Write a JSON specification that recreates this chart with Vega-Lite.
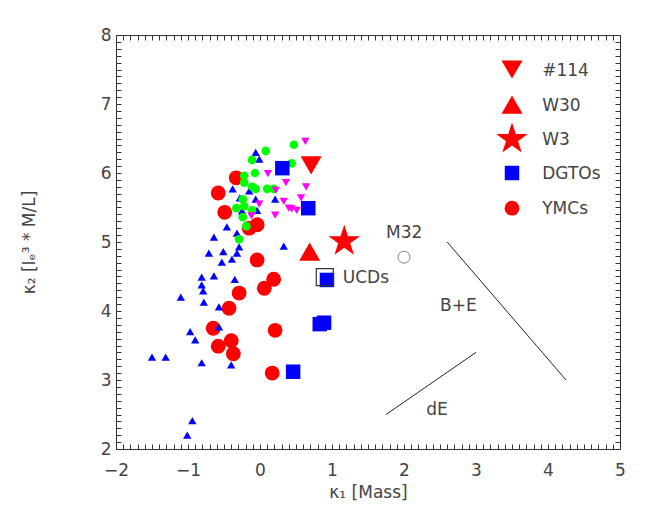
{
  "$schema": "https://vega.github.io/schema/vega-lite/v6.json",
  "width": 504,
  "height": 414,
  "autosize": {"type": "none"},
  "padding": {"left": 116, "top": 35, "right": 34, "bottom": 74},
  "background": "white",
  "config": {
    "view": {"stroke": null},
    "font": "DejaVu Sans",
    "axis": {
      "grid": false,
      "domainColor": "#333",
      "tickColor": "#333",
      "tickWidth": 1,
      "labelFont": "DejaVu Sans",
      "labelFontSize": 17,
      "labelColor": "#444",
      "labelOverlap": false,
      "labelFlush": false,
      "titleFont": "DejaVu Sans",
      "titleFontSize": 17,
      "titleFontWeight": "normal",
      "titleColor": "#444"
    }
  },
  "datasets": {
    "pts": [
      {"g": "YMC", "x": -0.58, "y": 5.71},
      {"g": "YMC", "x": -0.33, "y": 5.93},
      {"g": "YMC", "x": -0.49, "y": 5.43},
      {"g": "YMC", "x": -0.15, "y": 5.20},
      {"g": "YMC", "x": -0.04, "y": 5.25},
      {"g": "YMC", "x": -0.04, "y": 4.74},
      {"g": "YMC", "x": 0.19, "y": 4.46},
      {"g": "YMC", "x": 0.06, "y": 4.33},
      {"g": "YMC", "x": -0.29, "y": 4.26},
      {"g": "YMC", "x": -0.43, "y": 4.04},
      {"g": "YMC", "x": -0.65, "y": 3.75},
      {"g": "YMC", "x": 0.21, "y": 3.72},
      {"g": "YMC", "x": -0.40, "y": 3.57},
      {"g": "YMC", "x": -0.58, "y": 3.49},
      {"g": "YMC", "x": -0.37, "y": 3.38},
      {"g": "YMC", "x": 0.17, "y": 3.10},
      {"g": "tri", "x": -0.06, "y": 6.30},
      {"g": "tri", "x": -0.01, "y": 6.20},
      {"g": "tri", "x": -0.38, "y": 5.77},
      {"g": "tri", "x": -0.15, "y": 5.74},
      {"g": "tri", "x": -0.28, "y": 5.64},
      {"g": "tri", "x": -0.06, "y": 5.62},
      {"g": "tri", "x": 0.21, "y": 5.62},
      {"g": "tri", "x": -0.25, "y": 5.45},
      {"g": "tri", "x": -0.04, "y": 5.46},
      {"g": "tri", "x": -0.46, "y": 5.22},
      {"g": "tri", "x": -0.32, "y": 5.13},
      {"g": "tri", "x": -0.64, "y": 5.07},
      {"g": "tri", "x": -0.29, "y": 4.93},
      {"g": "tri", "x": 0.33, "y": 4.94},
      {"g": "tri", "x": -0.71, "y": 4.84},
      {"g": "tri", "x": -0.51, "y": 4.86},
      {"g": "tri", "x": -0.32, "y": 4.84},
      {"g": "tri", "x": -0.53, "y": 4.71},
      {"g": "tri", "x": -0.39, "y": 4.75},
      {"g": "tri", "x": -0.81, "y": 4.49},
      {"g": "tri", "x": -0.64, "y": 4.51},
      {"g": "tri", "x": -0.35, "y": 4.46},
      {"g": "tri", "x": -0.81, "y": 4.38},
      {"g": "tri", "x": -0.79, "y": 4.29},
      {"g": "tri", "x": -1.10, "y": 4.20},
      {"g": "tri", "x": -0.78, "y": 4.13},
      {"g": "tri", "x": -0.57, "y": 4.06},
      {"g": "tri", "x": -0.57, "y": 3.77},
      {"g": "tri", "x": -0.97, "y": 3.70},
      {"g": "tri", "x": -0.90, "y": 3.58},
      {"g": "tri", "x": -1.31, "y": 3.33},
      {"g": "tri", "x": -1.50, "y": 3.33},
      {"g": "tri", "x": -0.81, "y": 3.25},
      {"g": "tri", "x": -0.40, "y": 3.22},
      {"g": "tri", "x": -0.94, "y": 2.41},
      {"g": "tri", "x": -1.01, "y": 2.20},
      {"g": "grn", "x": 0.08, "y": 6.32},
      {"g": "grn", "x": 0.47, "y": 6.41},
      {"g": "grn", "x": 0.44, "y": 6.14},
      {"g": "grn", "x": -0.11, "y": 6.19},
      {"g": "grn", "x": -0.07, "y": 6.00},
      {"g": "grn", "x": -0.22, "y": 5.96},
      {"g": "grn", "x": -0.22, "y": 5.86},
      {"g": "grn", "x": -0.11, "y": 5.80},
      {"g": "grn", "x": -0.06, "y": 5.77},
      {"g": "grn", "x": 0.10, "y": 5.77},
      {"g": "grn", "x": 0.19, "y": 5.77},
      {"g": "grn", "x": -0.24, "y": 5.62},
      {"g": "grn", "x": -0.22, "y": 5.52},
      {"g": "grn", "x": -0.33, "y": 5.49},
      {"g": "grn", "x": -0.11, "y": 5.46},
      {"g": "grn", "x": -0.24, "y": 5.36},
      {"g": "grn", "x": -0.19, "y": 5.23},
      {"g": "grn", "x": -0.29, "y": 5.04},
      {"g": "mag", "x": 0.63, "y": 6.46},
      {"g": "mag", "x": 0.11, "y": 5.99},
      {"g": "mag", "x": 0.36, "y": 5.86},
      {"g": "mag", "x": 0.64, "y": 5.80},
      {"g": "mag", "x": 0.22, "y": 5.75},
      {"g": "mag", "x": 0.33, "y": 5.59},
      {"g": "mag", "x": 0.57, "y": 5.64},
      {"g": "mag", "x": 0.40, "y": 5.49},
      {"g": "mag", "x": 0.44, "y": 5.48},
      {"g": "mag", "x": 0.51, "y": 5.46},
      {"g": "mag", "x": 0.21, "y": 5.39},
      {"g": "mag", "x": -0.01, "y": 5.55},
      {"g": "mag", "x": -0.12, "y": 5.38},
      {"g": "DGTO", "x": 0.31, "y": 6.07},
      {"g": "DGTO", "x": 0.67, "y": 5.49},
      {"g": "DGTO", "x": 0.93, "y": 4.45},
      {"g": "DGTO", "x": 0.83, "y": 3.81},
      {"g": "DGTO", "x": 0.89, "y": 3.83},
      {"g": "DGTO", "x": 0.46, "y": 3.12},
      {"g": "114", "x": 0.71, "y": 6.11},
      {"g": "W30", "x": 0.69, "y": 4.86},
      {"g": "W3", "x": 1.17, "y": 5.01}
    ],
    "legend": [
      {"g": "114", "x": 3.5, "y": 7.5, "label": "#114"},
      {"g": "W30", "x": 3.5, "y": 6.99, "label": "W30"},
      {"g": "W3", "x": 3.5, "y": 6.49, "label": "W3"},
      {"g": "DGTO", "x": 3.5, "y": 6.0, "label": "DGTOs"},
      {"g": "YMC", "x": 3.5, "y": 5.49, "label": "YMCs"}
    ],
    "open": [
      {"name": "M32", "x": 2.0, "y": 4.78},
      {"name": "UCD", "x": 0.90, "y": 4.49}
    ],
    "notes": [
      {"x": 1.75, "y": 5.13, "text": "M32"},
      {"x": 1.15, "y": 4.48, "text": "UCDs"},
      {"x": 2.5, "y": 4.07, "text": "B+E"},
      {"x": 2.31, "y": 2.57, "text": "dE"},
      {"x": 3.92, "y": 7.48, "text": "#114"},
      {"x": 3.92, "y": 6.97, "text": "W30"},
      {"x": 3.92, "y": 6.48, "text": "W3"},
      {"x": 3.92, "y": 5.98, "text": "DGTOs"},
      {"x": 3.92, "y": 5.48, "text": "YMCs"}
    ],
    "lines": [
      {"line": "BE", "x": 2.6, "y": 5.0},
      {"line": "BE", "x": 4.25, "y": 3.0},
      {"line": "dE", "x": 1.75, "y": 2.5},
      {"line": "dE", "x": 3.0, "y": 3.4}
    ]
  },
  "resolve": {"axis": {"x": "independent", "y": "independent"}},
  "layer": [
    {
      "data": {"name": "legend"},
      "mark": {"type": "point", "filled": true, "opacity": 1, "strokeWidth": 0},
      "encoding": {
        "x": {
          "field": "x", "type": "quantitative",
          "scale": {"domain": [-2, 5], "nice": false, "zero": false},
          "axis": {
            "orient": "top", "labels": false, "title": null, "tickCount": 70, "tickSize": -5,
            "encode": {"ticks": {"update": {"y2": {"signal": "abs(datum.value-round(datum.value))<1e-6 ? 9 : 5"}}}}
          }
        },
        "y": {
          "field": "y", "type": "quantitative",
          "scale": {"domain": [2, 8], "nice": false, "zero": false},
          "axis": {
            "orient": "right", "labels": false, "title": null, "tickCount": 60, "tickSize": -5,
            "encode": {"ticks": {"update": {"x2": {"signal": "abs(datum.value-round(datum.value))<1e-6 ? -9 : -5"}}}}
          }
        },
        "shape": {
          "field": "g", "type": "nominal", "legend": null,
          "scale": {
            "domain": ["tri", "grn", "mag", "YMC", "DGTO", "114", "W30", "W3"],
            "range": ["triangle-up", "circle", "triangle-down", "circle", "square", "triangle-down", "triangle-up", "M0,-1L0.2245,-0.309L0.951,-0.309L0.363,0.118L0.588,0.809L0,0.382L-0.588,0.809L-0.363,0.118L-0.951,-0.309L-0.2245,-0.309Z"]
          }
        },
        "color": {
          "field": "g", "type": "nominal", "legend": null,
          "scale": {
            "domain": ["tri", "grn", "mag", "YMC", "DGTO", "114", "W30", "W3"],
            "range": ["#0000FF", "#00FF00", "#FF00FF", "#FF0000", "#0000FF", "#FF0000", "#FF0000", "#FF0000"]
          }
        },
        "size": {
          "field": "g", "type": "nominal", "legend": null,
          "scale": {
            "type": "ordinal",
            "domain": ["tri", "grn", "mag", "YMC", "DGTO", "114", "W30", "W3"],
            "range": [70, 75, 70, 220, 210, 441, 441, 1100]
          }
        }
      }
    },
    {
      "data": {"name": "pts"},
      "mark": {"type": "point", "filled": true, "opacity": 1, "strokeWidth": 0},
      "encoding": {
        "x": {
          "field": "x", "type": "quantitative",
          "axis": {
            "orient": "bottom", "tickCount": 70, "tickSize": -5,
            "labelExpr": "abs(datum.value-round(datum.value))<1e-6 ? format(round(datum.value),'d') : ''",
            "encode": {"ticks": {"update": {"y2": {"signal": "abs(datum.value-round(datum.value))<1e-6 ? -9 : -5"}}}},
            "labelPadding": 18,
            "title": "κ₁ [Mass]", "titlePadding": 6
          }
        },
        "y": {
          "field": "y", "type": "quantitative",
          "axis": {
            "orient": "left", "tickCount": 60, "tickSize": -5,
            "labelExpr": "abs(datum.value-round(datum.value))<1e-6 ? format(round(datum.value),'d') : ''",
            "encode": {"ticks": {"update": {"x2": {"signal": "abs(datum.value-round(datum.value))<1e-6 ? 9 : 5"}}}},
            "labelPadding": 10,
            "title": "κ₂ [Iₑ³ * M/L]", "titlePadding": 62
          }
        },
        "shape": {
          "field": "g", "type": "nominal", "legend": null,
          "scale": {
            "domain": ["tri", "grn", "mag", "YMC", "DGTO", "114", "W30", "W3"],
            "range": ["triangle-up", "circle", "triangle-down", "circle", "square", "triangle-down", "triangle-up", "M0,-1L0.2245,-0.309L0.951,-0.309L0.363,0.118L0.588,0.809L0,0.382L-0.588,0.809L-0.363,0.118L-0.951,-0.309L-0.2245,-0.309Z"]
          }
        },
        "color": {
          "field": "g", "type": "nominal", "legend": null,
          "scale": {
            "domain": ["tri", "grn", "mag", "YMC", "DGTO", "114", "W30", "W3"],
            "range": ["#0000FF", "#00FF00", "#FF00FF", "#FF0000", "#0000FF", "#FF0000", "#FF0000", "#FF0000"]
          }
        },
        "size": {
          "field": "g", "type": "nominal", "legend": null,
          "scale": {
            "type": "ordinal",
            "domain": ["tri", "grn", "mag", "YMC", "DGTO", "114", "W30", "W3"],
            "range": [70, 75, 70, 220, 210, 441, 441, 1100]
          }
        }
      }
    },
    {
      "data": {"name": "open"},
      "transform": [{"filter": "datum.name === 'UCD'"}],
      "mark": {"type": "point", "shape": "square", "filled": false, "size": 289, "color": "#333", "strokeWidth": 1.2, "opacity": 1},
      "encoding": {
        "x": {"field": "x", "type": "quantitative", "axis": null},
        "y": {"field": "y", "type": "quantitative", "axis": null}
      }
    },
    {
      "data": {"name": "open"},
      "transform": [{"filter": "datum.name === 'M32'"}],
      "mark": {"type": "point", "shape": "circle", "filled": false, "size": 144, "color": "#888", "strokeWidth": 1, "opacity": 1},
      "encoding": {
        "x": {"field": "x", "type": "quantitative", "axis": null},
        "y": {"field": "y", "type": "quantitative", "axis": null}
      }
    },
    {
      "data": {"name": "lines"},
      "mark": {"type": "line", "color": "#222", "strokeWidth": 1},
      "encoding": {
        "x": {"field": "x", "type": "quantitative", "axis": null},
        "y": {"field": "y", "type": "quantitative", "axis": null},
        "detail": {"field": "line"}
      }
    },
    {
      "data": {"name": "notes"},
      "mark": {"type": "text", "align": "left", "baseline": "middle", "fontSize": 17, "color": "#444", "font": "DejaVu Sans"},
      "encoding": {
        "x": {"field": "x", "type": "quantitative", "axis": null},
        "y": {"field": "y", "type": "quantitative", "axis": null},
        "text": {"field": "text"}
      }
    }
  ]
}
